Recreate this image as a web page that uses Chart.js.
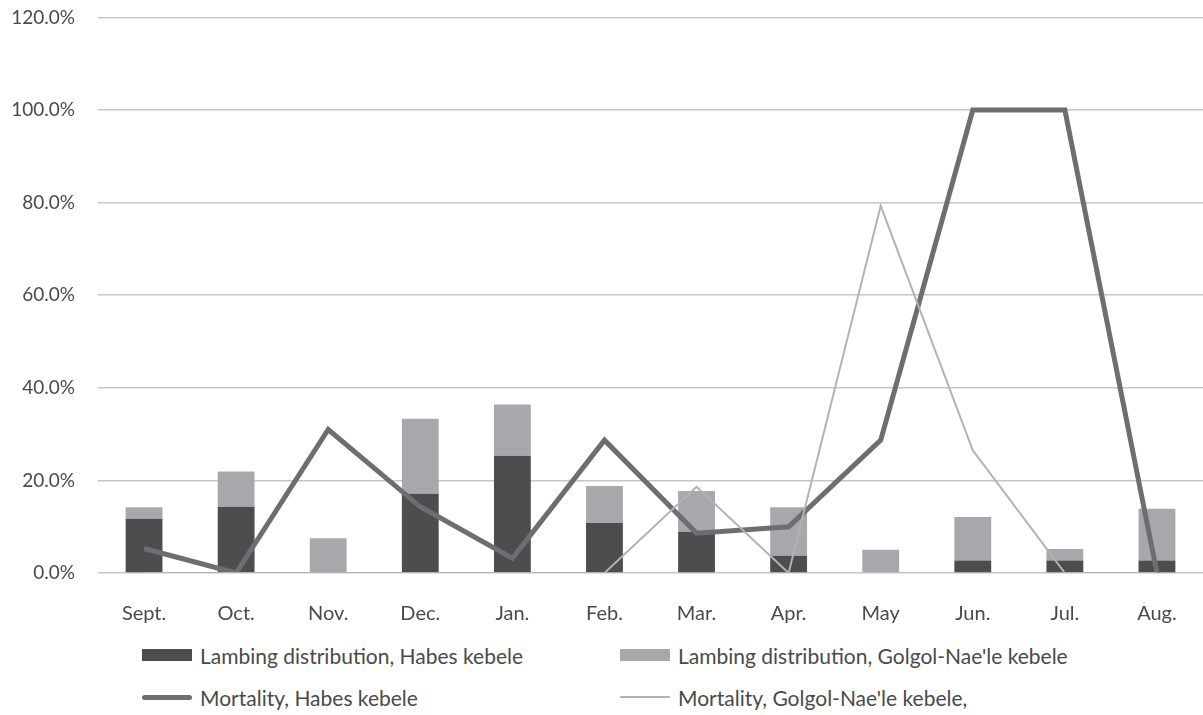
<!DOCTYPE html>
<html>
<head>
<meta charset="utf-8">
<script src="https://cdn.jsdelivr.net/npm/chart.js"></script>
<style>
  body { margin: 0; background: #fff; width: 1203px; height: 715px; overflow: hidden; font-family: Lato, sans-serif; color: #4a4a4a; }
  #wrap { position: relative; width: 1203px; height: 647px; margin-top: -17px; }
  #legend { display: grid; grid-template-columns: 478px 478px; margin-left: 142px; margin-top: 4px; grid-auto-rows: 42px; font-size: 21px; }
  .item { display: flex; align-items: center; }
  .mark { width: 50px; margin-right: 8px; }
</style>
</head>
<body>
<div id="wrap"><canvas id="myChart"></canvas></div>
<div id="legend"></div>
<script>
const months = ['Sept.', 'Oct.', 'Nov.', 'Dec.', 'Jan.', 'Feb.', 'Mar.', 'Apr.', 'May', 'Jun.', 'Jul.', 'Aug.'];
const lambHabes = [11.7, 14.3, 0, 17.1, 25.3, 10.8, 8.9, 3.7, 0, 2.7, 2.7, 2.7];
const lambGolgol = [2.5, 7.6, 7.5, 16.2, 11.1, 8.0, 8.8, 10.5, 5.0, 9.4, 2.5, 11.2];
const mortHabes = [5.3, 0, 31.0, 14.3, 3.2, 28.7, 8.6, 10.0, 28.7, 100, 100, 0];
const mortGolgol = [0, 0, 0, 0, 0, 0, 18.6, 0, 79.3, 26.5, 0, 0];
const yTicks = [0, 20, 40, 60, 80, 100, 120];

var ctx = document.getElementById('myChart').getContext('2d');
var myChart = new Chart(ctx, {
  data: {
    labels: months,
    datasets: [
      { type: 'bar', label: 'Lambing distribution, Habes kebele', data: lambHabes, backgroundColor: '#4d4d4f', stack: 'lamb', order: 2 },
      { type: 'bar', label: "Lambing distribution, Golgol-Nae'le kebele", data: lambGolgol, backgroundColor: '#a7a8ab', stack: 'lamb', order: 3 },
      { type: 'line', label: 'Mortality, Habes kebele', data: mortHabes, borderColor: '#6d6e71', borderWidth: 5, pointRadius: 0, stack: 'm1', order: 1, borderJoinStyle: 'miter' },
      { type: 'line', label: "Mortality, Golgol-Nae'le kebele,", data: mortGolgol, borderColor: '#b1b2b4', borderWidth: 2, pointRadius: 0, stack: 'm2', order: 0 }
    ]
  },
  options: {
    responsive: true,
    maintainAspectRatio: false,
    animation: false,
    layout: { padding: 0 },
    datasets: { bar: { barPercentage: 0.4, categoryPercentage: 1 } },
    plugins: { legend: { display: false }, tooltip: { enabled: false } },
    scales: {
      x: {
        stacked: true,
        grid: { display: false },
        border: { display: false },
        ticks: { color: '#4a4a4a', font: { family: 'Lato', size: 20 }, padding: 21, maxRotation: 0 },
        afterFit: function (s) { s.height = 57; }
      },
      y: {
        stacked: true,
        min: 0, max: 120,
        afterBuildTicks: function (s) { s.ticks = yTicks.map(v => ({ value: v })); },
        grid: { color: '#c6c6c8', lineWidth: 1.5, drawTicks: false },
        border: { display: false },
        ticks: { color: '#4a4a4a', font: { family: 'Lato', size: 19 }, padding: 23, callback: v => v.toFixed(1) + '%' },
        afterFit: function (s) { s.width = 98; }
      }
    }
  }
});

var legend = document.getElementById('legend');
myChart.data.datasets.forEach(function (ds) {
  var item = document.createElement('div');
  item.className = 'item';
  var mark = document.createElement('div');
  mark.className = 'mark';
  if (ds.type === 'bar') {
    mark.style.height = '12px';
    mark.style.background = ds.backgroundColor;
  } else {
    mark.style.height = ds.borderWidth + 'px';
    mark.style.background = ds.borderColor;
    mark.style.borderRadius = '3px';
  }
  var txt = document.createElement('span');
  txt.textContent = ds.label;
  item.appendChild(mark);
  item.appendChild(txt);
  legend.appendChild(item);
});
</script>
</body>
</html>
